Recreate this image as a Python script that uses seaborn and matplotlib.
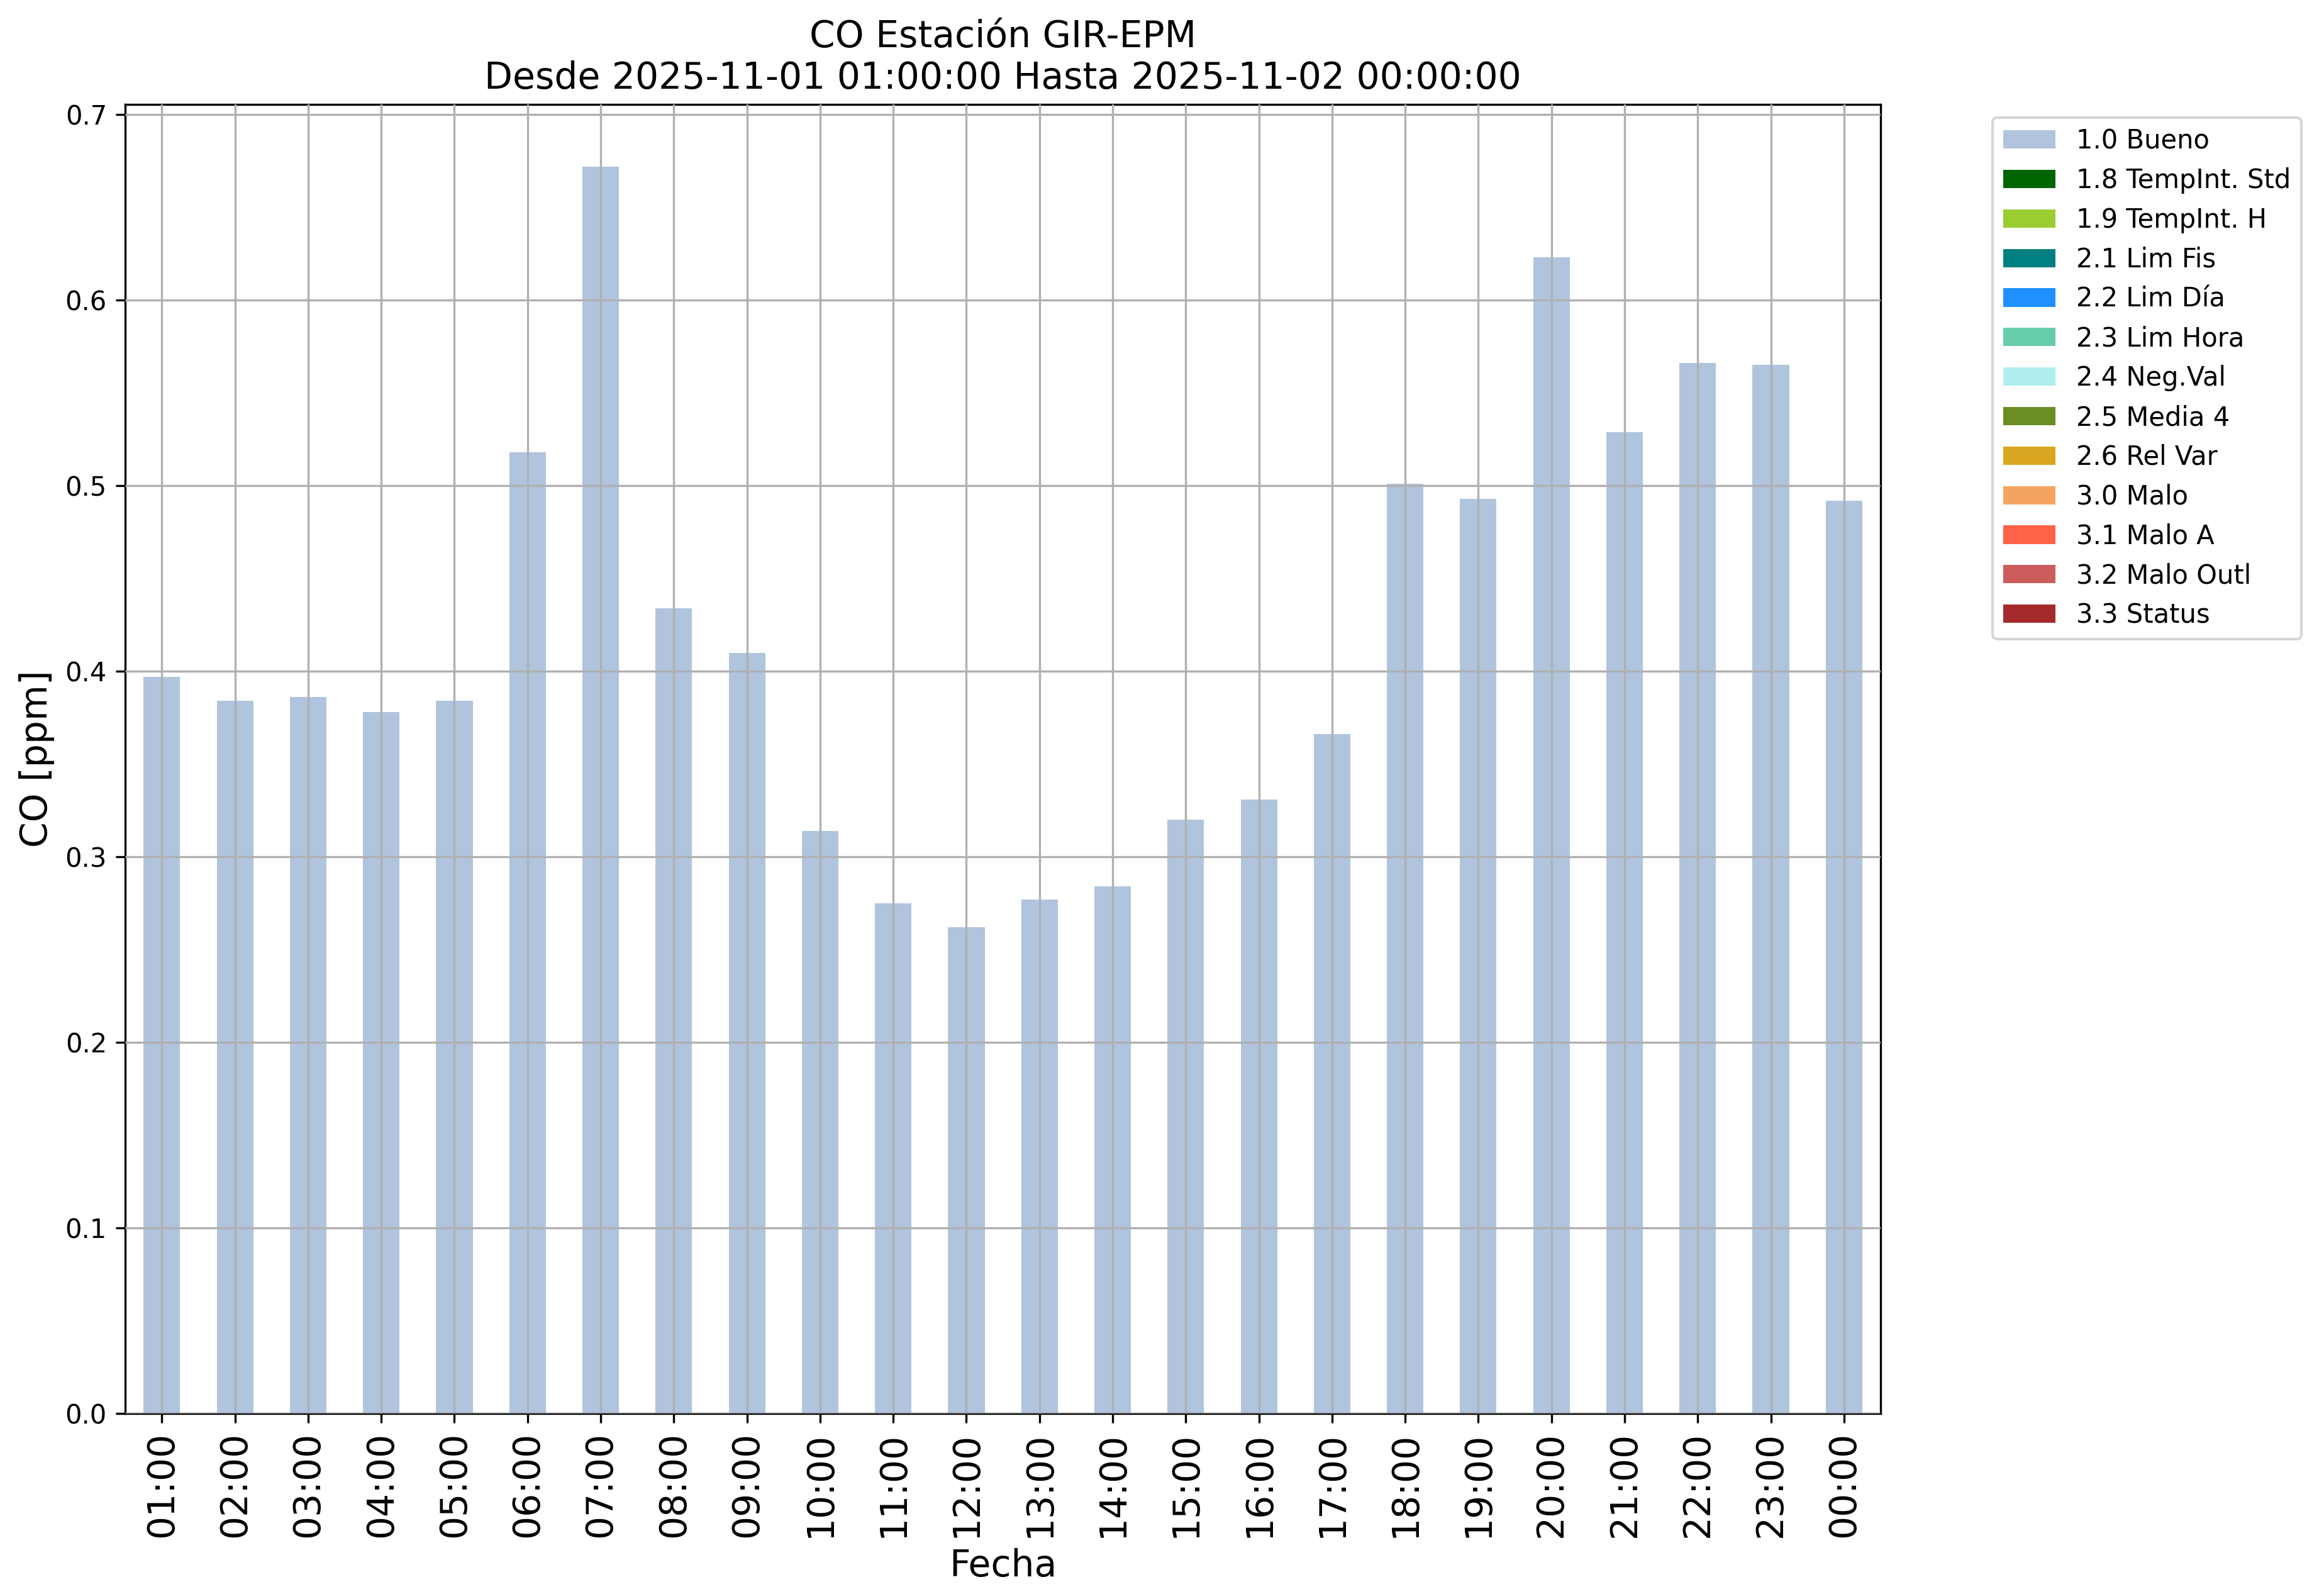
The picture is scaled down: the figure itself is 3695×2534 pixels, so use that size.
import matplotlib
matplotlib.use("Agg")
import matplotlib.pyplot as plt
from matplotlib.patches import Patch
import seaborn as sns
import pandas as pd

# hourly CO values (ppm), all flagged 1.0 Bueno
horas = ['01:00', '02:00', '03:00', '04:00', '05:00', '06:00', '07:00', '08:00',
         '09:00', '10:00', '11:00', '12:00', '13:00', '14:00', '15:00', '16:00',
         '17:00', '18:00', '19:00', '20:00', '21:00', '22:00', '23:00', '00:00']
co_ppm = [0.397, 0.384, 0.386, 0.378, 0.384, 0.518, 0.672, 0.434,
          0.410, 0.314, 0.275, 0.262, 0.277, 0.284, 0.320, 0.331,
          0.366, 0.501, 0.493, 0.623, 0.529, 0.566, 0.565, 0.492]

# quality flag legend
flags = ['1.0 Bueno', '1.8 TempInt. Std', '1.9 TempInt. H', '2.1 Lim Fis',
         '2.2 Lim Día', '2.3 Lim Hora', '2.4 Neg.Val', '2.5 Media 4',
         '2.6 Rel Var', '3.0 Malo', '3.1 Malo A', '3.2 Malo Outl', '3.3 Status']
flag_colors = ['lightsteelblue', 'darkgreen', 'yellowgreen', 'teal',
               'dodgerblue', 'mediumaquamarine', 'paleturquoise', 'olivedrab',
               'goldenrod', 'sandybrown', 'tomato', 'indianred', 'brown']

df = pd.DataFrame({'Fecha': horas, 'CO': co_ppm})

fig, ax = plt.subplots(figsize=(3695 / 300, 2534 / 300), dpi=300)
fig.subplots_adjust(left=0.0539, right=0.8092, top=0.9346, bottom=0.1133)

sns.barplot(data=df, x='Fecha', y='CO', order=horas, color=flag_colors[0],
            saturation=1, width=0.5, linewidth=0, ax=ax)

ax.set_xlim(-0.5, len(horas) - 0.5)
ax.set_ylim(0, max(co_ppm) * 1.05)
ax.grid(True, color='#b0b0b0', linewidth=0.8)
ax.set_axisbelow(False)

ax.set_title('CO Estación GIR-EPM\nDesde 2025-11-01 01:00:00 Hasta 2025-11-02 00:00:00',
             fontsize=14)
ax.set_xlabel('Fecha', fontsize=14)
ax.set_ylabel('CO [ppm]', fontsize=14)
ax.tick_params(axis='x', labelsize=14, labelrotation=90)
ax.tick_params(axis='y', labelsize=10)

handles = [Patch(facecolor=c, label=l) for c, l in zip(flag_colors, flags)]
ax.legend(handles=handles, loc='upper left', bbox_to_anchor=(1.0563, 1),
          fontsize=10)

fig.savefig('out.png', dpi=300, facecolor='white')
